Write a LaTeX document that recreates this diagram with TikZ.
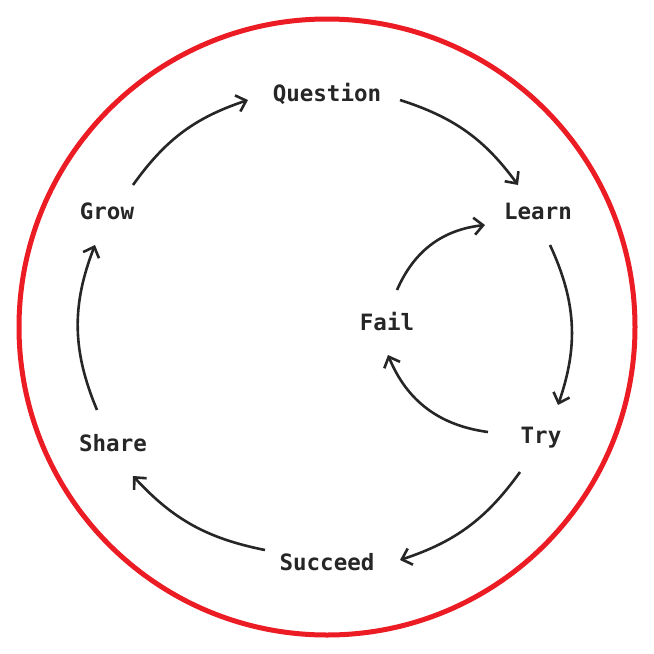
\documentclass[tikz,border=0pt]{standalone}
\usepackage{fontspec}
\setmonofont{DejaVu Sans Mono}
\usetikzlibrary{arrows.meta}
\begin{document}
\begin{tikzpicture}[x=1pt,y=-1pt,
  lbl/.style={font=\ttfamily\bfseries\fontsize{22.5}{22.5}\selectfont, text=black!85},
  arr/.style={line width=2.6pt, black!85, -{Straight Barb[length=9pt,width=17pt,line width=2.6pt]}}]
\useasboundingbox (0,0) rectangle (654,654);
\draw[line width=5pt, draw={rgb,255:red,236;green,28;blue,36}] (327,327) circle (308);
\node[lbl] (Q) at (327,94) {Question};
\node[lbl] (L) at (538,211) {Learn};
\node[lbl] (T) at (541,438) {Try};
\node[lbl] (S) at (327,562) {Succeed};
\node[lbl] (Sh) at (113,443) {Share};
\node[lbl] (G) at (107,211) {Grow};
\node[lbl] (F) at (387,322) {Fail};
\coordinate (g1) at (133,185); \coordinate (q0) at (248,100);
\coordinate (q1) at (400,100); \coordinate (l0) at (518,185);
\coordinate (l1) at (550,245); \coordinate (t0) at (558,405);
\coordinate (t1) at (520,472); \coordinate (s0) at (400,560);
\coordinate (s1) at (265,550); \coordinate (h0) at (133,476);
\coordinate (h1) at (97,410); \coordinate (g0) at (95,245);
\coordinate (t2) at (488,432); \coordinate (f0) at (388,355);
\coordinate (f1) at (397,290); \coordinate (l2) at (485,225);
\draw[arr] (g1) to[bend left=18] (q0);
\draw[arr] (q1) to[bend left=18] (l0);
\draw[arr] (l1) to[bend left=22] (t0);
\draw[arr] (t1) to[bend left=18] (s0);
\draw[arr] (s1) to[bend left=18] (h0);
\draw[arr] (h1) to[bend left=22] (g0);
\draw[arr] (t2) to[bend left=30] (f0);
\draw[arr] (f1) to[bend left=30] (l2);
\end{tikzpicture}
\end{document}
